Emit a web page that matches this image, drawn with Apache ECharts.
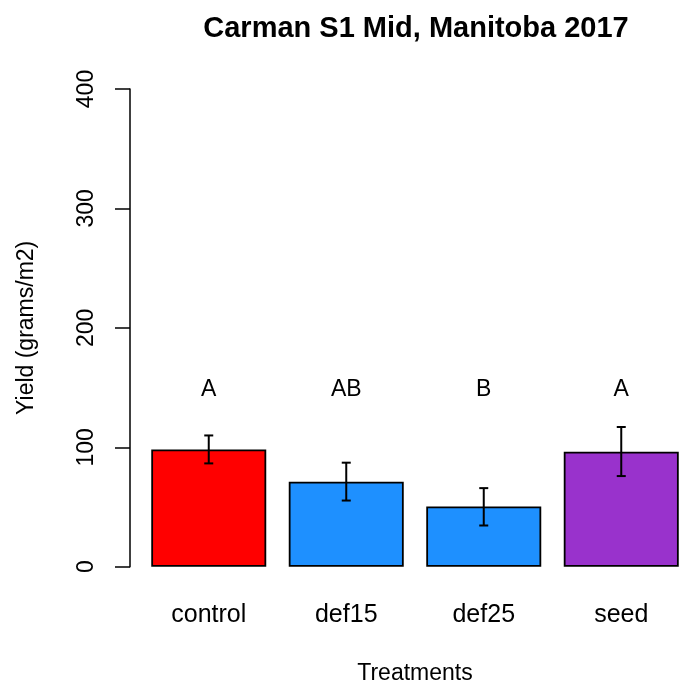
<!DOCTYPE html>
<html>
<head>
<meta charset="utf-8">
<script src="https://cdn.jsdelivr.net/npm/echarts@6/dist/echarts.min.js"></script>
<style>
html,body{margin:0;padding:0;background:#fff;}
#chart{width:682px;height:686px;}
</style>
</head>
<body>
<div id="chart"></div>
<script>
const categories = ['control', 'def15', 'def25', 'seed'];
const yieldMeans = [98.2, 71.1, 50.4, 96.3];
const errLow = [86.5, 55.4, 34.5, 75.9];
const errHigh = [109.9, 87.1, 65.8, 117.0];
const letters = ['A', 'AB', 'B', 'A'];
const letterY = 148;
const barColors = ['#FF0000', '#1E90FF', '#1E90FF', '#9932CC'];
const yTicks = [0, 100, 200, 300, 400];

const FONT = 'Liberation Sans, Arial, sans-serif';
const chart = echarts.init(document.getElementById('chart'), null, {renderer: 'canvas'});

const option = {
  backgroundColor: '#ffffff',
  animation: false,
  textStyle: {fontFamily: FONT},
  graphic: [{
    type: 'text',
    x: 416, y: 29,
    style: {
      text: 'Carman S1 Mid, Manitoba 2017',
      font: 'bold 29px ' + FONT,
      fill: '#000',
      textAlign: 'center',
      textVerticalAlign: 'middle'
    }
  }],
  grid: {left: 140, top: 89, width: 550, bottom: 119.3, containLabel: false, outerBoundsMode: 'none'},
  xAxis: {
    type: 'category',
    data: categories,
    axisLine: {show: false},
    axisTick: {show: false},
    axisLabel: {color: '#000', fontSize: 25, fontFamily: FONT, margin: 36},
    name: 'Treatments',
    nameLocation: 'middle',
    nameGap: 95,
    nameTextStyle: {color: '#000', fontSize: 23, fontFamily: FONT}
  },
  yAxis: {
    type: 'value',
    min: yTicks[0], max: yTicks[yTicks.length - 1], interval: 100,
    offset: 10,
    splitLine: {show: false},
    axisLine: {show: true, lineStyle: {color: '#000', width: 1.5}},
    axisTick: {show: true, length: 15, lineStyle: {color: '#000', width: 1.5}},
    axisLabel: {color: '#000', fontSize: 23, fontFamily: FONT, rotate: 90, margin: 32},
    name: 'Yield (grams/m2)',
    nameLocation: 'middle',
    nameGap: 92,
    nameRotate: 90,
    nameTextStyle: {color: '#000', fontSize: 23, fontFamily: FONT}
  },
  series: [
    {
      type: 'bar',
      barWidth: 115,
      data: yieldMeans.map((v, i) => ({value: v, itemStyle: {color: barColors[i]}})),
      itemStyle: {borderColor: '#000', borderWidth: 1.8},
      z: 2
    },
    {
      type: 'custom',
      z: 5,
      data: categories.map((c, i) => [i, errLow[i], errHigh[i]]),
      renderItem: function (params, api) {
        const lo = api.coord([api.value(0), api.value(1)]);
        const hi = api.coord([api.value(0), api.value(2)]);
        const x = lo[0], w = 4.5;
        const st = {stroke: '#000', lineWidth: 2};
        return {
          type: 'group',
          children: [
            {type: 'line', shape: {x1: x, y1: lo[1], x2: x, y2: hi[1]}, style: st},
            {type: 'line', shape: {x1: x - w, y1: lo[1], x2: x + w, y2: lo[1]}, style: st},
            {type: 'line', shape: {x1: x - w, y1: hi[1], x2: x + w, y2: hi[1]}, style: st}
          ]
        };
      }
    },
    {
      type: 'custom',
      z: 6,
      data: categories.map((c, i) => [i, letterY]),
      renderItem: function (params, api) {
        const p = api.coord([api.value(0), api.value(1)]);
        return {
          type: 'text',
          x: p[0], y: p[1],
          style: {
            text: letters[params.dataIndex],
            font: '23px ' + FONT,
            fill: '#000',
            textAlign: 'center',
            textVerticalAlign: 'middle'
          }
        };
      }
    }
  ]
};
chart.setOption(option);
</script>
</body>
</html>
